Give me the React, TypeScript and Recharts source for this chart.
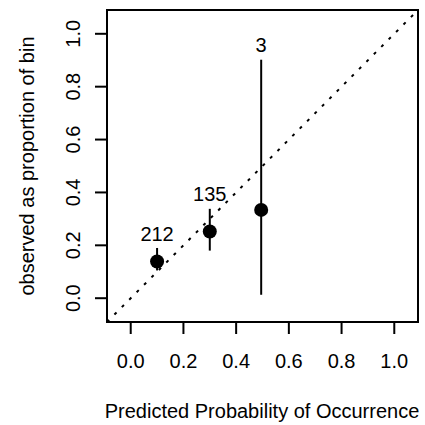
import React from "react"
import { ScatterChart, Scatter, XAxis, YAxis, ErrorBar, ReferenceLine, ReferenceArea, LabelList } from "recharts"

// calibration bins
const predicted = [0.1, 0.3, 0.495]
const observed = [0.139, 0.252, 0.334]
const lowerCI = [0.105, 0.18, 0.013]
const upperCI = [0.19, 0.338, 0.902]
const binCounts = [212, 135, 3]
const tickValues = [0, 0.2, 0.4, 0.6, 0.8, 1.0]

const FONT = "'Liberation Sans', Arial, Helvetica, sans-serif"
const FS = 20
const DOMAIN: [number, number] = [-0.09, 1.09]

const points = predicted.map((x, i) => ({
  x,
  y: observed[i],
  err: [observed[i] - lowerCI[i], upperCI[i] - observed[i]],
}))

const labels = predicted.map((x, i) => ({
  x,
  y: upperCI[i] + 0.055,
  n: binCounts[i],
}))

const XTick = ({ x, y, payload }: any) => (
  <text x={x} y={y + 34} textAnchor="middle" fontFamily={FONT} fontSize={FS} fill="#000">
    {payload.value.toFixed(1)}
  </text>
)

// y labels sit parallel to the axis, baseline at x = 80
const YTick = ({ y, payload }: any) => (
  <text
    x={80}
    y={y}
    textAnchor="middle"
    transform={`rotate(-90, 80, ${y})`}
    fontFamily={FONT}
    fontSize={FS}
    fill="#000"
  >
    {payload.value.toFixed(1)}
  </text>
)

const Dot = ({ cx, cy }: any) => <circle cx={cx} cy={cy} r={7} fill="#000" />

export default function App() {
  return (
    <div style={{ position: "absolute", left: 0, top: 0, background: "#fff" }}>
      <ScatterChart width={425} height={425} margin={{ top: 10, right: 7, bottom: 0, left: 0 }}>
        <XAxis
          type="number"
          dataKey="x"
          domain={DOMAIN}
          ticks={tickValues}
          allowDataOverflow
          axisLine={false}
          tickLine={{ stroke: "#000", strokeWidth: 2 }}
          tickSize={12}
          tickMargin={0}
          tick={<XTick />}
          height={103}
          label={{
            content: () => (
              <text x={262} y={418} textAnchor="middle" fontFamily={FONT} fontSize={FS} fill="#000">
                Predicted Probability of Occurrence
              </text>
            ),
          }}
        />
        <YAxis
          type="number"
          dataKey="y"
          domain={DOMAIN}
          ticks={tickValues}
          allowDataOverflow
          axisLine={false}
          tickLine={{ stroke: "#000", strokeWidth: 2 }}
          tickSize={12}
          tickMargin={0}
          tick={<YTick />}
          width={107}
          label={{
            content: () => (
              <text
                x={34}
                y={166}
                textAnchor="middle"
                transform="rotate(-90, 34, 166)"
                fontFamily={FONT}
                fontSize={FS}
                fill="#000"
              >
                observed as proportion of bin
              </text>
            ),
          }}
        />
        <ReferenceLine
          segment={[{ x: DOMAIN[0], y: DOMAIN[0] }, { x: DOMAIN[1], y: DOMAIN[1] }]}
          stroke="#000"
          strokeWidth={2}
          strokeDasharray="3 7.5"
        />
        <ReferenceArea x1={DOMAIN[0]} x2={DOMAIN[1]} y1={DOMAIN[0]} y2={DOMAIN[1]} fill="none" fillOpacity={0} stroke="#000" strokeWidth={2} />
        <Scatter data={points} shape={<Dot />} isAnimationActive={false}>
          <ErrorBar dataKey="err" direction="y" width={0} stroke="#000" strokeWidth={2} isAnimationActive={false} />
        </Scatter>
        <Scatter data={labels} shape={() => <g />} isAnimationActive={false}>
          <LabelList dataKey="n" position="center" fontFamily={FONT} fontSize={FS} fill="#000" />
        </Scatter>
      </ScatterChart>
    </div>
  )
}
